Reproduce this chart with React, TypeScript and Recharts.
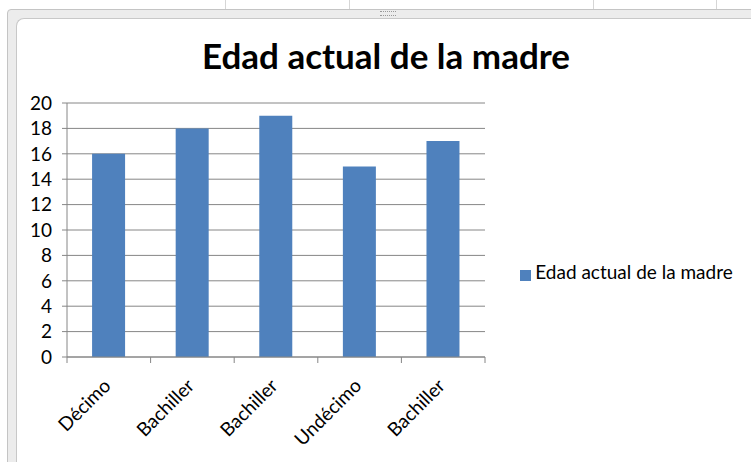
import { Bar, BarChart, CartesianGrid, Legend, XAxis, YAxis } from "recharts"

const categories = ["Décimo", "Bachiller", "Bachiller", "Undécimo", "Bachiller"]
const edadMadre = [16, 18, 19, 15, 17]
const yTicks = [0, 2, 4, 6, 8, 10, 12, 14, 16, 18, 20]
const seriesName = "Edad actual de la madre"

const data = categories.map((c, i) => ({ name: c, edad: edadMadre[i] }))

const font = "Lato, 'Open Sans', sans-serif"
const axisGray = "#868686"

// labels rotated like Excel, tick marks on the category edges
function XLabel(props: any) {
  const { x, y, payload, index } = props
  const half = payload.offset ?? 0
  const top = y - 8
  const ax = x + 3
  const ay = y + 22
  return (
    <g>
      <line x1={x - half} y1={top} x2={x - half} y2={top + 6} stroke={axisGray} />
      {index === categories.length - 1 && (
        <line x1={x + half} y1={top} x2={x + half} y2={top + 6} stroke={axisGray} />
      )}
      <text
        x={ax}
        y={ay}
        transform={`rotate(-45, ${ax}, ${ay})`}
        textAnchor="end"
        fontSize={19}
        fontFamily={font}
        fill="#000"
      >
        {payload.value}
      </text>
    </g>
  )
}

export default function App() {
  return (
    <div style={{ position: "absolute", left: 0, top: 0, width: 751, height: 462, overflow: "hidden", background: "#fff" }}>
      {[225, 349, 593, 716].map((x) => (
        <div key={x} style={{ position: "absolute", left: x, top: 0, width: 1, height: 10, background: "#d6d6d6" }} />
      ))}
      <div
        style={{
          position: "absolute",
          left: 7,
          top: 9,
          width: 770,
          height: 480,
          background: "#ececec",
          border: "1px solid #c4c4c4",
          borderTopLeftRadius: 4,
        }}
      />
      <div style={{ position: "absolute", left: 380, top: 11, width: 16, height: 3, borderTop: "1px dotted #999", borderBottom: "1px dotted #999" }} />
      <div
        style={{
          position: "absolute",
          left: 16,
          top: 18,
          width: 770,
          height: 480,
          background: "#fff",
          borderTop: "1px solid #c8c8c8",
          borderLeft: "1px solid #c8c8c8",
          borderTopLeftRadius: 8,
        }}
      />
      <div
        style={{
          position: "absolute",
          left: 0,
          top: 34,
          width: 772,
          textAlign: "center",
          fontFamily: font,
          fontWeight: "bold",
          fontSize: 35,
          color: "#000",
        }}
      >
        {seriesName}
      </div>
      <div style={{ position: "absolute", left: 0, top: 0 }}>
        <BarChart width={751} height={462} data={data} margin={{ top: 103, right: 266, bottom: 0, left: 0 }} barCategoryGap="30%">
          <CartesianGrid vertical={false} stroke={axisGray} />
          <XAxis
            dataKey="name"
            height={105}
            tickLine={false}
            axisLine={{ stroke: axisGray }}
            tick={<XLabel />}
            interval={0}
          />
          <YAxis
            width={67}
            domain={[0, 20]}
            ticks={yTicks}
            tickSize={5}
            tickMargin={10}
            stroke={axisGray}
            tick={{ fill: "#000", fontSize: 19, fontFamily: font }}
            interval={0}
          />
          <Legend
            layout="horizontal"
            verticalAlign="middle"
            align="center"
            iconType="square"
            iconSize={11}
            wrapperStyle={{ left: 512, top: 260, width: 239, textAlign: "left" }}
            formatter={(value) => (
              <span style={{ color: "#000", fontSize: 19, fontFamily: font }}>{value}</span>
            )}
          />
          <Bar dataKey="edad" name={seriesName} fill="#4F81BD" isAnimationActive={false} />
        </BarChart>
      </div>
    </div>
  )
}
